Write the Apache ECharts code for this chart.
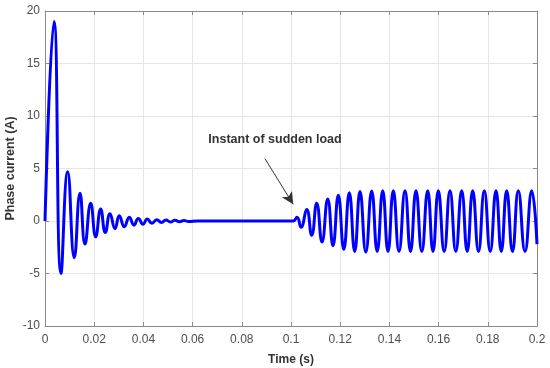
<!DOCTYPE html>
<html>
<head>
<meta charset="utf-8">
<script src="https://cdn.jsdelivr.net/npm/echarts@6/dist/echarts.min.js"></script>
<style>
html,body{margin:0;padding:0;background:#fff;}
#chart{width:550px;height:368px;}
</style>
</head>
<body>
<div id="chart"></div>
<script>
// Time (s) of read extrema of the phase current waveform
const timeS = [
  0, 0.00366, 0.0065, 0.00923, 0.01191, 0.01423, 0.01626, 0.01858, 0.02061, 0.02264,
  0.02451, 0.02642, 0.02846, 0.0302, 0.03224, 0.03427, 0.03618, 0.03793, 0.03984, 0.04159,
  0.0435, 0.04541, 0.04736, 0.04919, 0.05102, 0.05285, 0.05467, 0.0565, 0.05833, 0.062,
  0.1009,
  0.10244, 0.10407, 0.10638, 0.10841, 0.11045, 0.1126, 0.11492, 0.11707, 0.11923, 0.12146,
  0.1237, 0.12589, 0.12805, 0.13041, 0.1328, 0.13504, 0.13728, 0.13943, 0.14159, 0.1439,
  0.14634, 0.14858, 0.15081, 0.15317, 0.15557, 0.15772, 0.15988, 0.16228, 0.16463, 0.16699,
  0.16939, 0.17163, 0.17386, 0.17622, 0.17858, 0.18098, 0.18333, 0.18549, 0.18768, 0.19004,
  0.1924, 0.19512, 0.19785, 0.2
];
// Phase current (A) at those instants
const currentA = [
  0, 19.0, -5.0, 4.7, -3.5, 2.65, -2.2, 1.7, -1.5, 1.15,
  -1.1, 0.7, -0.73, 0.5, -0.55, 0.35, -0.4, 0.25, -0.3, 0.18,
  -0.22, 0.13, -0.15, 0.1, -0.1, 0.07, -0.07, 0.05, -0.05, 0,
  0,
  0.35, -0.6, 1.1, -1.35, 1.7, -2.0, 2.1, -2.35, 2.45, -2.7,
  2.7, -2.9, 2.8, -2.95, 2.85, -2.9, 2.87, -2.9, 2.87, -2.9,
  2.87, -2.9, 2.87, -2.9, 2.87, -2.9, 2.87, -2.9, 2.87, -2.9,
  2.87, -2.9, 2.87, -2.9, 2.87, -2.9, 2.87, -2.9, 2.87, -2.9,
  2.87, -2.9, 2.87, -2.2
];
// Axis ticks
const xTicks = {min: 0, max: 0.2, interval: 0.02};
const yTicks = {min: -10, max: 20, interval: 5};
// Annotation (arrow from label toward the load instant)
const annotText = 'Instant of sudden load';
const arrowFrom = [0.0894, 5.94];
const arrowTo = [0.1009, 1.59];
const labelAt = [0.0935, 7.75];

const seriesData = timeS.map((t, i) => [t, currentA[i]]);

const font = '"Liberation Sans", Arial, Helvetica, sans-serif';
const axisColor = '#8a8a8a';
const labelColor = '#4d4d4d';
const gridColor = '#e6e6e6';

const chart = echarts.init(document.getElementById('chart'), null, {renderer: 'canvas'});
const baseX = {
  type: 'value', min: xTicks.min, max: xTicks.max, interval: xTicks.interval,
  axisLine: {show: true, onZero: false, lineStyle: {color: axisColor, width: 1}},
  axisTick: {show: true, inside: true, length: 4, lineStyle: {color: axisColor}},
};
const baseY = {
  type: 'value', min: yTicks.min, max: yTicks.max, interval: yTicks.interval,
  axisLine: {show: true, onZero: false, lineStyle: {color: axisColor, width: 1}},
  axisTick: {show: true, inside: true, length: 4, lineStyle: {color: axisColor}},
};
chart.setOption({
  animation: false,
  backgroundColor: '#ffffff',
  grid: {left: 45, right: 13, top: 11, bottom: 42, containLabel: false, outerBoundsMode: 'none'},
  xAxis: [
    Object.assign({}, baseX, {
      position: 'bottom',
      name: 'Time (s)', nameLocation: 'middle', nameGap: 28, nameMoveOverlap: false,
      nameTextStyle: {fontFamily: font, fontSize: 12, fontWeight: 'bold', color: '#333'},
      axisLabel: {fontFamily: font, fontSize: 12, color: labelColor, margin: 8},
      splitLine: {show: true, lineStyle: {color: gridColor, width: 1}}
    }),
    Object.assign({}, baseX, {
      position: 'top',
      axisLabel: {show: false},
      splitLine: {show: false}
    })
  ],
  yAxis: [
    Object.assign({}, baseY, {
      position: 'left',
      name: 'Phase current (A)', nameLocation: 'middle', nameGap: 28, nameRotate: 90,
      nameMoveOverlap: false,
      nameTextStyle: {fontFamily: font, fontSize: 12.5, fontWeight: 'bold', color: '#333'},
      axisLabel: {fontFamily: font, fontSize: 12, color: labelColor, margin: 5},
      splitLine: {show: true, lineStyle: {color: gridColor, width: 1}}
    }),
    Object.assign({}, baseY, {
      position: 'right',
      axisLabel: {show: false},
      splitLine: {show: false}
    })
  ],
  series: [{
    type: 'line',
    xAxisIndex: 0, yAxisIndex: 0,
    data: seriesData,
    smooth: 0.5,
    showSymbol: false,
    lineStyle: {color: '#0000ff', width: 3},
    z: 3,
    markLine: {
      silent: true,
      symbol: ['none', 'arrow'],
      symbolSize: [9, 12],
      lineStyle: {color: '#333333', width: 1, type: 'solid'},
      label: {show: false},
      data: [[{coord: arrowFrom}, {coord: arrowTo}]]
    },
    markPoint: {
      silent: true,
      symbol: 'circle', symbolSize: 0,
      label: {show: true, position: 'inside', formatter: annotText,
        fontFamily: font, fontSize: 12.5, fontWeight: 'bold', color: '#333333'},
      data: [{coord: labelAt}]
    }
  }]
});
</script>
</body>
</html>
